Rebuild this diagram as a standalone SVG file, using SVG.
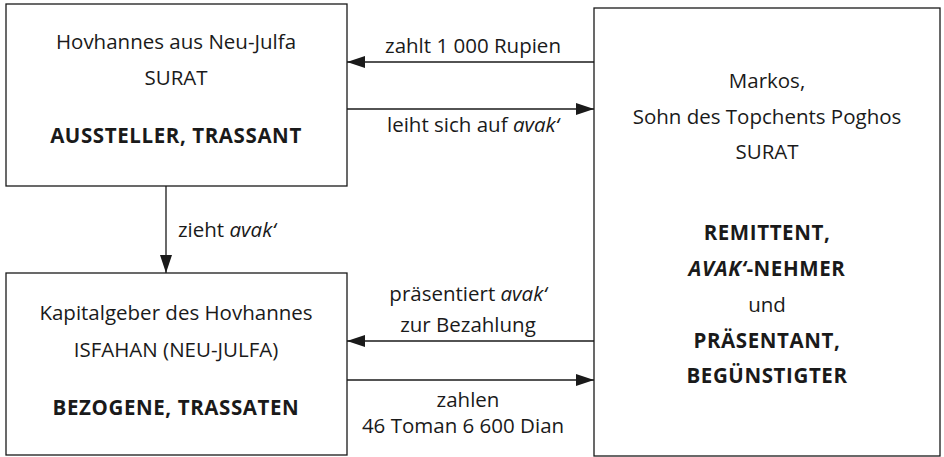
<svg xmlns="http://www.w3.org/2000/svg" width="944" height="457" viewBox="0 0 944 457">
<style>
text{font-family:"Open Sans","Noto Sans","Liberation Sans",sans-serif;font-size:20.5px;fill:#1a1a1a;text-anchor:middle}
.b{font-weight:bold;letter-spacing:0.6px}
.i{font-style:italic}
.box{fill:#fff;stroke:#1a1a1a;stroke-width:1.3}
.con{stroke:#1a1a1a;stroke-width:1.3;fill:none}
</style>
<defs>
<marker id="ah" markerWidth="18" markerHeight="12" refX="18" refY="6" orient="auto" markerUnits="userSpaceOnUse">
<path d="M0,0 L18,6 L0,12 Z" fill="#1a1a1a"/>
</marker>
</defs>
<rect width="944" height="457" fill="#fff"/>
<g id="hovhannes">
<rect class="box" x="6" y="4" width="341" height="182"/>
<text x="176" y="49">Hovhannes aus Neu-Julfa</text>
<text x="176" y="85">SURAT</text>
<text x="176" y="143" class="b">AUSSTELLER, TRASSANT</text>
</g>
<g id="kapitalgeber">
<rect class="box" x="6" y="273" width="341" height="182"/>
<text x="176" y="320">Kapitalgeber des Hovhannes</text>
<text x="176" y="357">ISFAHAN (NEU-JULFA)</text>
<text x="176" y="415" class="b">BEZOGENE, TRASSATEN</text>
</g>
<g id="markos">
<rect class="box" x="594" y="8" width="346" height="448"/>
<text x="767" y="88">Markos,</text>
<text x="767" y="124">Sohn des Topchents Poghos</text>
<text x="767" y="159">SURAT</text>
<text x="767" y="240" class="b">REMITTENT,</text>
<text x="767" y="276" class="b"><tspan class="i">AVAK‘</tspan>-NEHMER</text>
<text x="767" y="312">und</text>
<text x="767" y="348" class="b">PRÄSENTANT,</text>
<text x="767" y="383" class="b">BEGÜNSTIGTER</text>
</g>
<g id="connectors">
<line class="con" x1="594" y1="62" x2="347" y2="62" marker-end="url(#ah)"/>
<text x="473" y="53">zahlt 1 000 Rupien</text>
<line class="con" x1="347" y1="109" x2="594" y2="109" marker-end="url(#ah)"/>
<text x="473" y="132">leiht sich auf <tspan class="i">avak‘</tspan></text>
<line class="con" x1="166" y1="186" x2="166" y2="273" marker-end="url(#ah)"/>
<text x="178" y="237" style="text-anchor:start">zieht <tspan class="i">avak‘</tspan></text>
<line class="con" x1="594" y1="341" x2="347" y2="341" marker-end="url(#ah)"/>
<text x="468" y="301">präsentiert <tspan class="i">avak‘</tspan></text>
<text x="468" y="332">zur Bezahlung</text>
<line class="con" x1="347" y1="380" x2="594" y2="380" marker-end="url(#ah)"/>
<text x="468" y="407">zahlen</text>
<text x="463" y="433">46 Toman 6 600 Dian</text>
</g>
</svg>
